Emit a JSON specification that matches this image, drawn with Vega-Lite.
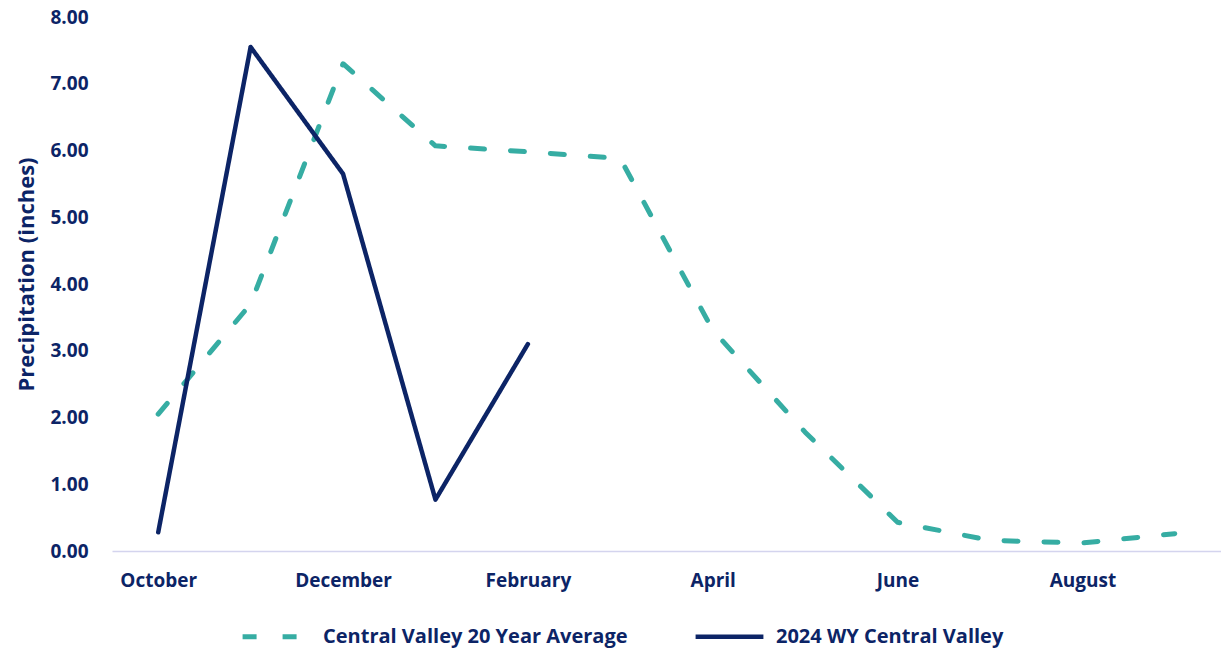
{
  "$schema": "https://vega.github.io/schema/vega-lite/v6.json",
  "width": 1109,
  "height": 534,
  "autosize": {"type": "none"},
  "padding": {"left": 112, "top": 17, "right": 0, "bottom": 98},
  "background": "white",
  "config": {
    "view": {"stroke": null},
    "font": "Open Sans"
  },
  "data": {
    "values": [
      {"month": "October", "series": "Central Valley 20 Year Average", "value": 2.05},
      {"month": "November", "series": "Central Valley 20 Year Average", "value": 3.70},
      {"month": "December", "series": "Central Valley 20 Year Average", "value": 7.30},
      {"month": "January", "series": "Central Valley 20 Year Average", "value": 6.07},
      {"month": "February", "series": "Central Valley 20 Year Average", "value": 5.98},
      {"month": "March", "series": "Central Valley 20 Year Average", "value": 5.88},
      {"month": "April", "series": "Central Valley 20 Year Average", "value": 3.31},
      {"month": "May", "series": "Central Valley 20 Year Average", "value": 1.78},
      {"month": "June", "series": "Central Valley 20 Year Average", "value": 0.43},
      {"month": "July", "series": "Central Valley 20 Year Average", "value": 0.16},
      {"month": "August", "series": "Central Valley 20 Year Average", "value": 0.12},
      {"month": "September", "series": "Central Valley 20 Year Average", "value": 0.26},
      {"month": "October", "series": "2024 WY Central Valley", "value": 0.28},
      {"month": "November", "series": "2024 WY Central Valley", "value": 7.55},
      {"month": "December", "series": "2024 WY Central Valley", "value": 5.65},
      {"month": "January", "series": "2024 WY Central Valley", "value": 0.77},
      {"month": "February", "series": "2024 WY Central Valley", "value": 3.10}
    ]
  },
  "mark": {"type": "line", "strokeCap": "round", "strokeJoin": "round"},
  "encoding": {
    "x": {
      "field": "month",
      "type": "ordinal",
      "sort": ["October","November","December","January","February","March","April","May","June","July","August","September"],
      "scale": {"type": "point", "padding": 0.5},
      "axis": {
        "title": null,
        "labelAngle": 0,
        "ticks": false,
        "domainColor": "#d4d4ee",
        "domainWidth": 1.5,
        "labelExpr": "indexof(['October','December','February','April','June','August'], datum.value) >= 0 ? datum.value : ''",
        "labelFont": "Open Sans",
        "labelFontSize": 19,
        "labelFontWeight": "bold",
        "labelColor": "#0c2466",
        "labelPadding": 20
      }
    },
    "y": {
      "field": "value",
      "type": "quantitative",
      "scale": {"domain": [0, 8], "nice": false},
      "axis": {
        "title": "Precipitation (inches)",
        "values": [0,1,2,3,4,5,6,7,8],
        "format": ".2f",
        "grid": false,
        "domain": false,
        "ticks": false,
        "labelFont": "Open Sans",
        "labelFontSize": 19,
        "labelFontWeight": "bold",
        "labelColor": "#0c2466",
        "labelPadding": 24,
        "titleFont": "Open Sans",
        "titleFontSize": 22,
        "titleFontWeight": "bold",
        "titleColor": "#0c2466",
        "titlePadding": 11,
        "titleY": 257
      }
    },
    "color": {
      "field": "series",
      "type": "nominal",
      "scale": {
        "domain": ["Central Valley 20 Year Average", "2024 WY Central Valley"],
        "range": ["#36ada3", "#0c2466"]
      },
      "legend": {
        "title": null,
        "orient": "none",
        "direction": "horizontal",
        "legendX": 128,
        "legendY": 583,
        "symbolType": "stroke",
        "symbolSize": 4600,
        "symbolStrokeWidth": 5,
        "labelFont": "Open Sans",
        "labelFontSize": 20,
        "labelFontWeight": "bold",
        "labelColor": "#0c2466",
        "labelOffset": 10,
        "columnPadding": 58,
        "labelLimit": 400
      }
    },
    "strokeDash": {
      "field": "series",
      "type": "nominal",
      "scale": {
        "domain": ["Central Valley 20 Year Average", "2024 WY Central Valley"],
        "range": [[14, 26], [1, 0]]
      },
      "legend": null
    },
    "strokeWidth": {
      "field": "series",
      "type": "nominal",
      "scale": {
        "domain": ["Central Valley 20 Year Average", "2024 WY Central Valley"],
        "range": [5, 4.5]
      },
      "legend": null
    }
  }
}
